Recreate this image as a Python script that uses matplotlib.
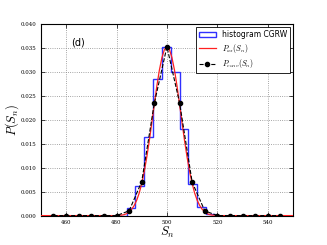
import matplotlib
matplotlib.use("Agg")
import matplotlib.pyplot as plt
from matplotlib.patches import Patch
import numpy as np

plt.rcParams['mathtext.fontset'] = 'cm'

# histogram CGRW
hist_edges = [480.5, 484.0, 487.5, 491.0, 494.5, 498.0, 501.5, 505.0, 508.5, 512.0, 515.5, 519.0]
hist_heights = [0.0, 0.0015, 0.0061, 0.0164, 0.0286, 0.0353, 0.0300, 0.0180, 0.0066, 0.0017, 0.0003]

# P_as(S_n) smooth curve
as_x = [450, 475, 480, 481, 482, 483, 484, 485, 486, 487, 488, 489, 490, 491, 492, 493, 494, 495,
        496, 497, 498, 499, 500, 501, 502, 503, 504, 505, 506, 507, 508, 509, 510, 511, 512,
        513, 514, 515, 516, 517, 518, 519, 520, 525, 550]
as_y = [0.0, 0.0, 0.0, 0.0001, 0.0001, 0.0002, 0.0004, 0.0008, 0.0013, 0.0021, 0.0032, 0.0047,
        0.0067, 0.0092, 0.0122, 0.0156, 0.0194, 0.0233, 0.0271, 0.0304, 0.0330, 0.0347, 0.0353,
        0.0347, 0.0330, 0.0304, 0.0271, 0.0233, 0.0194, 0.0156, 0.0122, 0.0092, 0.0067, 0.0047,
        0.0032, 0.0021, 0.0013, 0.0008, 0.0004, 0.0002, 0.0001, 0.0001, 0.0, 0.0, 0.0]

# P_conv(S_n) points
conv_x = [455, 460, 465, 470, 475, 480, 485, 490, 495, 500, 505, 510, 515, 520, 525, 530, 535, 540, 545]
conv_y = [0.0, 0.0, 0.0, 0.0, 0.0, 0.0, 0.0010, 0.0071, 0.0235, 0.0353, 0.0236, 0.0070, 0.0010,
          0.0, 0.0, 0.0, 0.0, 0.0, 0.0]

xticks = [460, 480, 500, 520, 540]
yticks = [0.000, 0.005, 0.010, 0.015, 0.020, 0.025, 0.030, 0.035, 0.040]

fig = plt.figure(figsize=(3.27, 2.45), dpi=100)
ax = fig.add_axes([0.125, 0.12, 0.771, 0.781])

ax.stairs(hist_heights, hist_edges, color='#3030ff', lw=1.0, zorder=2)
l_as, = ax.plot(as_x, as_y, color='#ff2020', lw=0.9, zorder=3)
l_conv, = ax.plot(conv_x, conv_y, color='black', ls='--', lw=0.8, marker='o', ms=3, zorder=4)

ax.set_xlim(450, 550)
ax.set_ylim(0, 0.04)
ax.set_xticks(xticks)
ax.set_yticks(yticks)
ax.set_xticklabels([str(t) for t in xticks], family='DejaVu Serif', fontsize=4)
ax.set_yticklabels(['%.3f' % t for t in yticks], family='DejaVu Serif', fontsize=4)
ax.tick_params(direction='in', length=3, width=0.5, pad=3, top=True, right=True)
ax.grid(True, ls=':', color='#888888', lw=0.6)
for s in ax.spines.values():
    s.set_linewidth(0.8)

ax.set_xlabel(r'$S_n$', fontsize=9, labelpad=0)
ax.set_ylabel(r'$P(S_n)$', fontsize=9)
ax.yaxis.set_label_coords(-0.08, 0.5)
ax.text(462, 0.0356, '(d)', fontsize=7)

h_hist = Patch(facecolor='none', edgecolor='#3030ff', lw=1.0)
leg = ax.legend([h_hist, l_as, l_conv],
                ['histogram CGRW', r'$P_{as}(S_n)$', r'$P_{conv}(S_n)$'],
                loc='upper right', fontsize=5.5, fancybox=False, framealpha=1,
                edgecolor='black', borderpad=0.35, handlelength=2.2, labelspacing=0.35,
                borderaxespad=0.4)
leg.get_frame().set_linewidth(0.6)

fig.savefig('out.png', dpi=100)
